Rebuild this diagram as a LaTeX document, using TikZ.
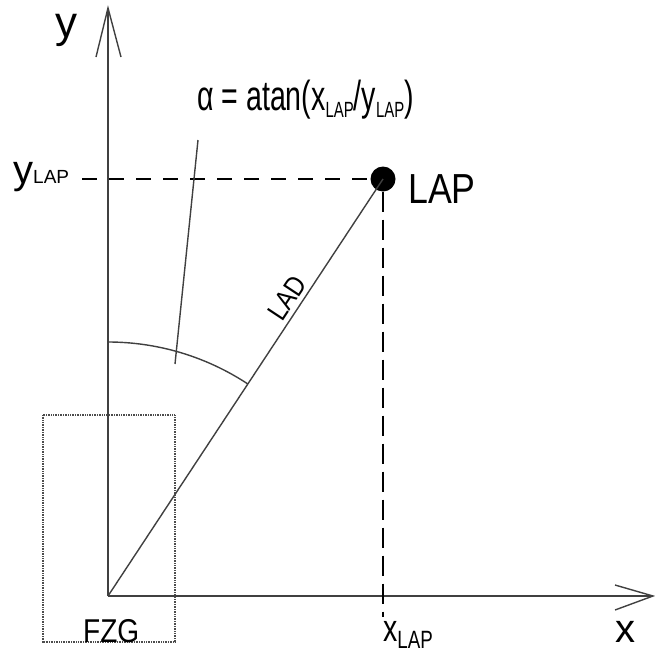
\documentclass[tikz,border=0pt]{standalone}
\usepackage{fontspec}
\setmainfont{Liberation Sans}
\newfontfamily\condA[FakeStretch=0.68]{Liberation Sans}
\newfontfamily\condB[FakeStretch=0.85]{Liberation Sans}
\newfontfamily\condC[FakeStretch=0.75]{Liberation Sans}
\newcommand\fsz[1]{\fontsize{#1}{#1}\selectfont}
\begin{document}
\begin{tikzpicture}[x=1pt,y=-1pt,
  axis/.style={line width=1.4pt, draw=black!75},
  hdash/.style={line width=2.6pt, draw=black, dash pattern=on 15pt off 12pt},
  vdash/.style={line width=2.6pt, draw=black, dash pattern=on 20pt off 8pt},
  fzgbox/.style={line width=2.5pt, draw=black!70, dash pattern=on 1pt off 0.7pt},
  lbl/.style={inner sep=0pt, anchor=base west}]
\useasboundingbox (0,0) rectangle (655,651);
% coordinates
\coordinate (O) at (108,596);
\coordinate (ytip) at (108,8);
\coordinate (yl) at (96,57);
\coordinate (yr) at (121,57);
\coordinate (xtip) at (653,596);
\coordinate (xu) at (615,585);
\coordinate (xd) at (615,610);
\coordinate (hstart) at (82,179);
\coordinate (vend) at (383,617);
\coordinate (p1) at (198,140);
\coordinate (p2) at (175,364);
\coordinate (arcs) at (108,342);
% FZG box
\draw[fzgbox] (43,415) rectangle (175,642);
% axes
\draw[axis] (O) -- (ytip);
\draw[axis] (yl) -- (ytip) -- (yr);
\draw[axis] (O) -- (xtip);
\draw[axis] (xu) -- (xtip) -- (xd);
% LAP point
\node[circle, fill=black, inner sep=0pt, minimum size=25pt] (lap) at (383,179) {};
% dashed lines
\draw[hdash] (hstart) -- (lap.west);
\draw[vdash] (lap.south) -- (vend);
% LAD
\draw[axis] (O) -- (lap.center);
% angle arc
\draw[axis] (arcs) arc[start angle=-90, end angle=-56.6, radius=254];
% pointer
\draw[axis] (p1) -- (p2);
% labels
\node[lbl] (ylab) at (55,37) {\fsz{44}y};
\node[lbl] (xlab) at (615,642) {\fsz{40}x};
\node[lbl] (laplab) at (408,203) {\condB\fsz{42}LAP};
\node[lbl] (ylap) at (13,183) {\fsz{40}y{\fsz{19}LAP}};
\node[lbl] (xlap) at (383,641) {\condC\fsz{38}x\raisebox{-7pt}{\fsz{25}LAP}};
\node[lbl] (fzg) at (83,642) {\condB\fsz{33}FZG};
\node[lbl, rotate=56.6] (lad) at (282,323) {\condB\fsz{28}LAD};
\node[lbl] (formula) at (197,110) {\condA\fsz{42}α = atan(x\raisebox{-7pt}{\fsz{22}LAP}/y\raisebox{-7pt}{\fsz{22}LAP})};
\end{tikzpicture}
\end{document}
